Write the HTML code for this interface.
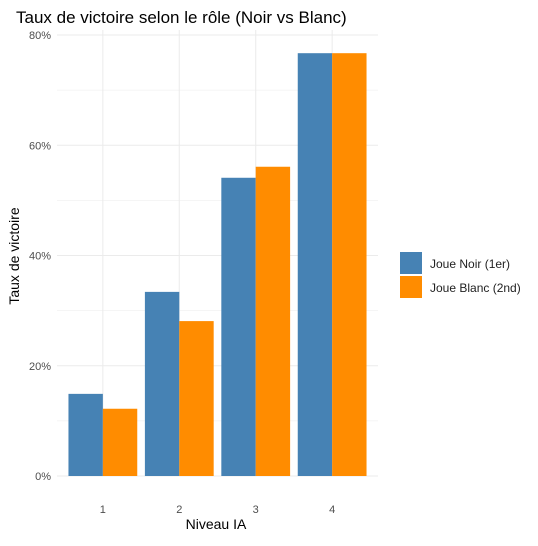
<!DOCTYPE html>
<html><head><meta charset="utf-8"><style>
body{margin:0;background:#fff;font-family:"Liberation Sans",sans-serif}
svg text{font-family:"Liberation Sans",sans-serif}
</style></head><body>
<svg width="538" height="541" viewBox="0 0 538 541">
<g id="grid"></g><g id="bars"></g><g id="axes"></g>
<text x="16" y="23" font-size="17" fill="#000">Taux de victoire selon le rôle (Noir vs Blanc)</text>
<text x="216" y="529" font-size="14" text-anchor="middle" fill="#000">Niveau IA</text>
<text transform="translate(19,256) rotate(-90)" font-size="14" text-anchor="middle" fill="#000">Taux de victoire</text>
<g>
<rect x="400" y="252" width="22" height="22" fill="#4682b4"/>
<text x="430" y="268" font-size="12" fill="#222">Joue Noir (1er)</text>
<rect x="400" y="276" width="22" height="22" fill="#ff8c00"/>
<text x="430" y="292" font-size="12" fill="#222">Joue Blanc (2nd)</text>
</g>
</svg>
<script>
const categories=["1","2","3","4"];
const noir=[14.9,33.4,54.1,76.7];
const blanc=[12.2,28.1,56.1,76.7];
const yTicks=[0,20,40,60,80];
const yTickLabels=["0%","20%","40%","60%","80%"];
const NS="http://www.w3.org/2000/svg";
const x0=57,x1=378,y0=476,y1=35;
function xs(i){return x0+(i+1-0.4)/4.2*(x1-x0);}
function ys(v){return y0-(v/80)*(y0-y1);}
const unit=(x1-x0)/4.2;
function mk(tag,attrs,parent){const e=document.createElementNS(NS,tag);for(const k in attrs)e.setAttribute(k,attrs[k]);document.getElementById(parent).appendChild(e);return e;}
for(let t=0;t<=80;t+=10){
 const l=mk("line",{x1:x0,x2:x1,y1:ys(t),y2:ys(t),stroke:"#ebebeb","stroke-width":t%20?0.5:1},"grid");
 
 
}
categories.forEach((c,i)=>{
 const l=mk("line",{x1:xs(i),x2:xs(i),y1:y1-5,y2:y0,stroke:"#ebebeb","stroke-width":1},"grid");
 
 
 const w=unit*0.45;
 const b1=mk("rect",{x:xs(i)-w,y:ys(noir[i]),width:w,height:y0-ys(noir[i]),fill:"#4682b4"},"bars");
 
 
 const b2=mk("rect",{x:xs(i),y:ys(blanc[i]),width:w,height:y0-ys(blanc[i]),fill:"#ff8c00"},"bars");
 
 
 const t=mk("text",{x:xs(i),y:513,"font-size":11,"text-anchor":"middle",fill:"#4d4d4d"},"axes");
 t.textContent=c;
 
 
});
yTicks.forEach((v,i)=>{
 const t=mk("text",{x:x0-6,y:ys(v)+4,"font-size":11,"text-anchor":"end",fill:"#4d4d4d"},"axes");
 t.textContent=yTickLabels[i];
 
 
});
</script>
</body></html>
